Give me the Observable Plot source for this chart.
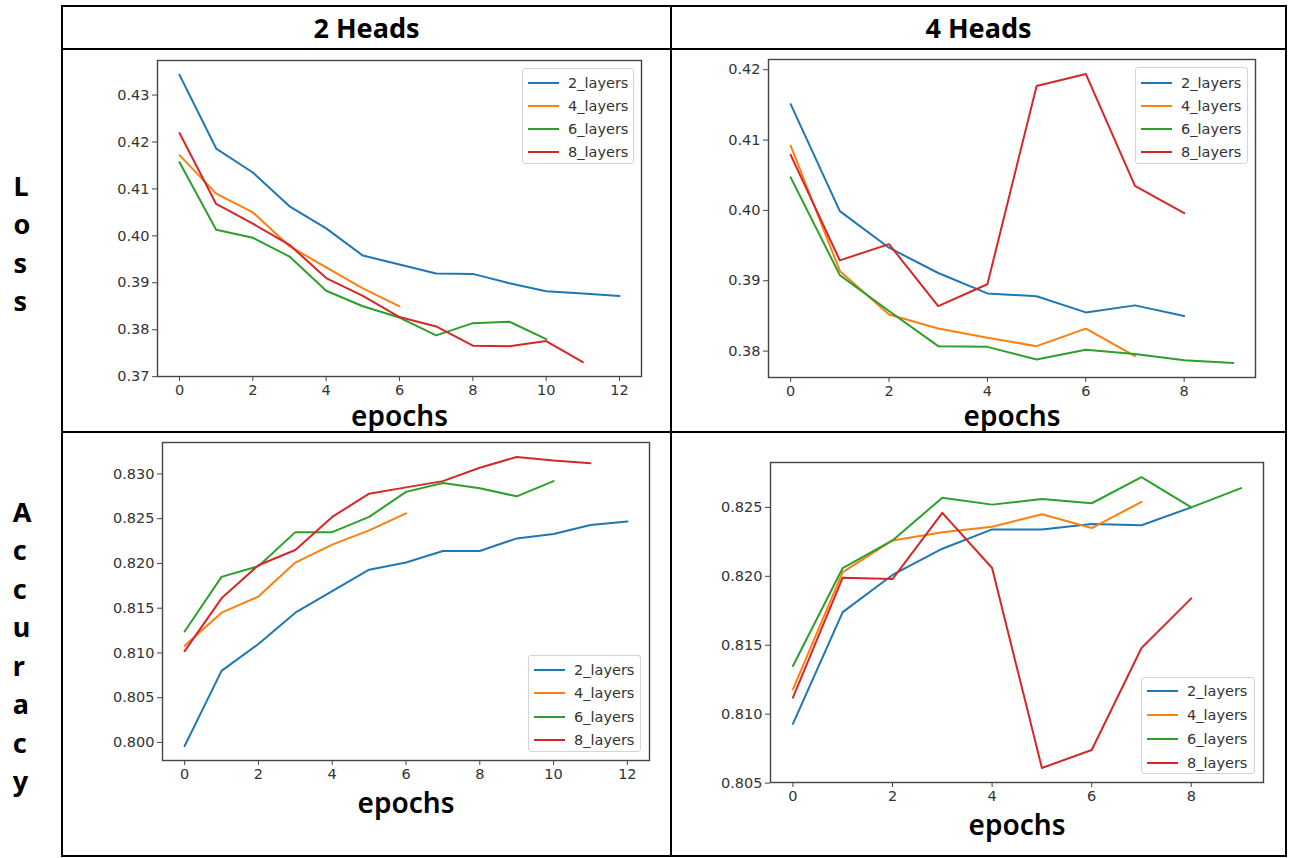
<!DOCTYPE html>
<html>
<head>
<meta charset="utf-8">
<script src="https://cdn.jsdelivr.net/npm/d3@7"></script>
<script src="https://cdn.jsdelivr.net/npm/@observablehq/plot@0.6"></script>
<style>
  html, body { margin: 0; padding: 0; background: #fff; }
  #root { position: relative; width: 1294px; height: 858px; overflow: hidden; background: #fff; }
  .line { position: absolute; background: #000; }
  .head { position: absolute; top: 5px; height: 44px; display: flex; align-items: center; justify-content: center;
          font-family: "Noto Sans", sans-serif; font-weight: 700; font-size: 27px; color: #000; }
  .rowlab { position: absolute; left: 0; width: 44px; display: flex; flex-direction: column; align-items: center; justify-content: center;
            font-family: "Noto Sans", sans-serif; font-weight: 700; font-size: 27px; line-height: 38.5px; color: #000; }
  .panel { position: absolute; }
  .legend { position: absolute; box-sizing: border-box; border: 1px solid #d4d4d4; border-radius: 3px; background: rgba(255,255,255,0.85);
            font-family: "DejaVu Sans", sans-serif; font-size: 14.5px; color: #333; }
  .entry { position: absolute; left: 0; height: 20px; width: 100%; }
  .sw { position: absolute; left: 5px; width: 31px; height: 2px; top: 9px; }
  .lt { position: absolute; left: 45px; top: 0; line-height: 20px; white-space: nowrap; }
</style>
</head>
<body>
<div id="root"></div>
<script>
// ---- data ----
const layers = ["2_layers", "4_layers", "6_layers", "8_layers"];
const colors = ["#1f77b4", "#ff7f0e", "#2ca02c", "#d62728"];
const headTitles = ["2 Heads", "4 Heads"];
const rowTitles = ["Loss", "Accuracy"];
const xLabel = "epochs";

// Loss, 2 heads
const loss2h_2 = [0.4343, 0.4186, 0.4135, 0.4063, 0.4016, 0.3958, 0.3939, 0.3920, 0.3919, 0.3899, 0.3882, 0.3877, 0.3872];
const loss2h_4 = [0.4172, 0.4090, 0.4050, 0.3978, 0.3933, 0.3888, 0.3850];
const loss2h_6 = [0.4157, 0.4013, 0.3996, 0.3956, 0.3883, 0.3850, 0.3826, 0.3788, 0.3814, 0.3817, 0.3780];
const loss2h_8 = [0.4219, 0.4068, 0.4026, 0.3981, 0.3910, 0.3872, 0.3827, 0.3807, 0.3766, 0.3765, 0.3776, 0.3731];

// Loss, 4 heads
const loss4h_2 = [0.4151, 0.3999, 0.3947, 0.3911, 0.3882, 0.3878, 0.3855, 0.3865, 0.3850];
const loss4h_4 = [0.4092, 0.3914, 0.3852, 0.3832, 0.3819, 0.3807, 0.3832, 0.3793];
const loss4h_6 = [0.4047, 0.3908, 0.3857, 0.3807, 0.3806, 0.3788, 0.3802, 0.3796, 0.3787, 0.3783];
const loss4h_8 = [0.4079, 0.3929, 0.3952, 0.3864, 0.3895, 0.4177, 0.4194, 0.4035, 0.3996];

// Accuracy, 2 heads
const acc2h_2 = [0.7996, 0.8080, 0.8110, 0.8145, 0.8169, 0.8193, 0.8201, 0.8214, 0.8214, 0.8228, 0.8233, 0.8243, 0.8247];
const acc2h_4 = [0.8108, 0.8145, 0.8163, 0.8201, 0.8221, 0.8237, 0.8256];
const acc2h_6 = [0.8124, 0.8185, 0.8197, 0.8235, 0.8235, 0.8252, 0.8280, 0.8290, 0.8284, 0.8275, 0.8292];
const acc2h_8 = [0.8102, 0.8161, 0.8198, 0.8215, 0.8252, 0.8278, 0.8285, 0.8292, 0.8307, 0.8319, 0.8315, 0.8312];

// Accuracy, 4 heads
const acc4h_2 = [0.8093, 0.8174, 0.8201, 0.8220, 0.8234, 0.8234, 0.8238, 0.8237, 0.8250];
const acc4h_4 = [0.8118, 0.8203, 0.8226, 0.8232, 0.8236, 0.8245, 0.8235, 0.8254];
const acc4h_6 = [0.8135, 0.8206, 0.8226, 0.8257, 0.8252, 0.8256, 0.8253, 0.8272, 0.8250, 0.8264];
const acc4h_8 = [0.8112, 0.8199, 0.8198, 0.8246, 0.8206, 0.8061, 0.8074, 0.8148, 0.8184];

// tick labels
const xTicks12 = [0, 2, 4, 6, 8, 10, 12];
const xTicks8 = [0, 2, 4, 6, 8];
const lossTicks2h = [0.37, 0.38, 0.39, 0.40, 0.41, 0.42, 0.43];
const lossTicks4h = [0.38, 0.39, 0.40, 0.41, 0.42];
const accTicks2h = [0.800, 0.805, 0.810, 0.815, 0.820, 0.825, 0.830];
const accTicks4h = [0.805, 0.810, 0.815, 0.820, 0.825];

// ---- layout helpers ----
const root = document.getElementById("root");
function box(cls, css, html) {
  const d = document.createElement("div");
  d.className = cls;
  Object.assign(d.style, css);
  if (html != null) d.innerHTML = html;
  root.appendChild(d);
  return d;
}

// table lines
box("line", {left: "61px", top: "5px", width: "1226px", height: "2px"});
box("line", {left: "61px", top: "855px", width: "1226px", height: "2px"});
box("line", {left: "61px", top: "5px", width: "2px", height: "852px"});
box("line", {left: "1285px", top: "5px", width: "2px", height: "852px"});
box("line", {left: "61px", top: "48px", width: "1226px", height: "2px"});
box("line", {left: "61px", top: "431px", width: "1226px", height: "2px"});
box("line", {left: "670px", top: "5px", width: "2px", height: "852px"});

// header titles
box("head", {left: "63px", width: "607px"}, headTitles[0]);
box("head", {left: "672px", width: "613px"}, headTitles[1]);

// row labels
box("rowlab", {top: "52px", height: "383px"}, rowTitles[0].split("").join("<br>"));
box("rowlab", {top: "438px", height: "417px"}, rowTitles[1].split("").join("<br>"));

function tidy(seriesArrays) {
  return seriesArrays.flatMap((arr, i) => arr.map((v, e) => ({epoch: e, value: v, series: layers[i]})));
}
function padded(lo, hi) {
  const m = (hi - lo) * 0.05;
  return [lo - m, hi + m];
}

function panel({data, pos, margins, xTicks, yTicks, yFmt, labelDy, legend}) {
  const [left, top, width, height] = pos;
  const xd = padded(0, d3.max(data, d => d.epoch));
  const yd = padded(d3.min(data, d => d.value), d3.max(data, d => d.value));
  const chart = Plot.plot({
    width, height,
    marginLeft: margins[0], marginRight: margins[1], marginTop: margins[2], marginBottom: margins[3],
    style: {fontFamily: "DejaVu Sans, sans-serif", fontSize: "14.5px", color: "#333", background: "transparent", overflow: "visible"},
    x: {domain: xd, label: null},
    y: {domain: yd, label: null},
    color: {domain: layers, range: colors},
    marks: [
      Plot.frame({stroke: "#444", strokeWidth: 1.4}),
      Plot.axisX({ticks: xTicks, tickFormat: d3.format("d"), tickSize: 5, tickPadding: 3, stroke: "#444", label: null}),
      Plot.axisY({ticks: yTicks, tickFormat: d3.format(yFmt), tickSize: 5, tickPadding: 3, stroke: "#444", label: null}),
      Plot.line(data, {x: "epoch", y: "value", z: "series", stroke: "series", strokeWidth: 2}),
      Plot.text([xLabel], {frameAnchor: "bottom", text: d => d, dy: labelDy, lineAnchor: "middle",
        fontSize: 28, fontFamily: "Noto Sans, sans-serif", fontWeight: 600, fill: "#000"})
    ]
  });
  const wrap = box("panel", {left: left + "px", top: top + "px", width: width + "px", height: height + "px"});
  wrap.appendChild(chart);

  // legend (line swatches like matplotlib)
  const [lx, ly, lw, lh, first, step] = legend;
  const lg = box("legend", {left: lx + "px", top: ly + "px", width: lw + "px", height: lh + "px"});
  layers.forEach((name, i) => {
    const e = document.createElement("div");
    e.className = "entry";
    e.style.top = (first + i * step - 10) + "px";
    e.innerHTML = `<div class="sw" style="background:${colors[i]}"></div><div class="lt">${name}</div>`;
    lg.appendChild(e);
  });
}

panel({
  data: tidy([loss2h_2, loss2h_4, loss2h_6, loss2h_8]),
  pos: [61, 49, 610, 383], margins: [96, 30, 11, 56],
  xTicks: xTicks12, yTicks: lossTicks2h, yFmt: ".2f", labelDy: 41,
  legend: [522, 68, 112, 96, 14, 23]
});
panel({
  data: tidy([loss4h_2, loss4h_4, loss4h_6, loss4h_8]),
  pos: [671, 49, 615, 383], margins: [97, 31, 10, 55],
  xTicks: xTicks8, yTicks: lossTicks4h, yFmt: ".2f", labelDy: 40,
  legend: [1135, 67, 113, 97, 15, 23]
});
panel({
  data: tidy([acc2h_2, acc2h_4, acc2h_6, acc2h_8]),
  pos: [61, 432, 610, 425], margins: [101, 22, 10, 97],
  xTicks: xTicks12, yTicks: accTicks2h, yFmt: ".3f", labelDy: 44,
  legend: [528, 655, 113, 97, 14, 23.3]
});
panel({
  data: tidy([acc4h_2, acc4h_4, acc4h_6, acc4h_8]),
  pos: [671, 432, 615, 425], margins: [99, 23, 30, 75],
  xTicks: xTicks8, yTicks: accTicks4h, yFmt: ".3f", labelDy: 44,
  legend: [1141, 677, 114, 97, 13, 24]
});
</script>
</body>
</html>
